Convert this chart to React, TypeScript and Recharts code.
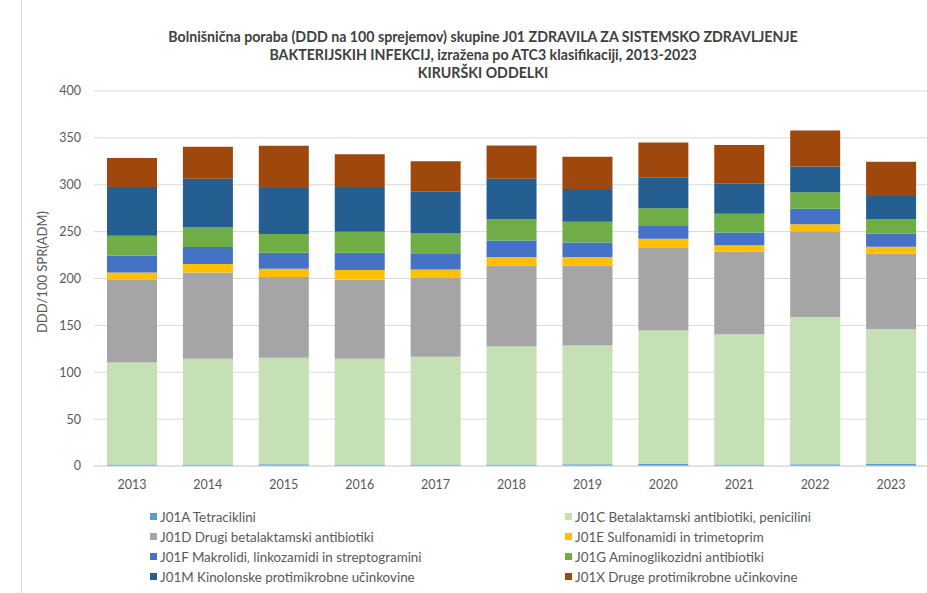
import { FC } from 'react';
import { BarChart, Bar, XAxis, YAxis, CartesianGrid, Legend } from 'recharts';

const years = ['2013', '2014', '2015', '2016', '2017', '2018', '2019', '2020', '2021', '2022', '2023'];

// DDD/100 SPR(ADM) by ATC3 group
const j01a = [1.5, 1.5, 2, 1.5, 1.5, 1.5, 2, 2.5, 1.5, 2, 2.5];
const j01c = [109, 113, 113.5, 113, 115, 126, 126.5, 142, 139, 157, 143.5];
const j01d = [88, 92, 86, 84.5, 84, 86, 85, 88, 88, 91.5, 80.5];
const j01e = [8, 9, 9, 10, 9, 9.5, 9.5, 10, 7, 7.5, 7.5];
const j01f = [18, 18, 17, 18.5, 17.5, 17.5, 15.5, 13.5, 13.5, 16.5, 14];
const j01g = [21, 21, 20, 22.5, 21, 23, 22, 19, 20, 17.5, 15.5];
const j01m = [52, 52, 49, 47.5, 44.5, 43, 35, 33, 32, 27.5, 24.5];
const j01x = [31, 34, 45, 35, 32.5, 35.5, 34.5, 37, 41.5, 38.5, 36.5];

const yTicks = [0, 50, 100, 150, 200, 250, 300, 350, 400];

const series = [
  { key: 'j01a', name: 'J01A Tetraciklini', color: '#5B9BD5', values: j01a },
  { key: 'j01c', name: 'J01C Betalaktamski antibiotiki, penicilini', color: '#C5E0B4', values: j01c },
  { key: 'j01d', name: 'J01D Drugi betalaktamski antibiotiki', color: '#A5A5A5', values: j01d },
  { key: 'j01e', name: 'J01E Sulfonamidi in trimetoprim', color: '#FFC000', values: j01e },
  { key: 'j01f', name: 'J01F Makrolidi, linkozamidi in streptogramini', color: '#4472C4', values: j01f },
  { key: 'j01g', name: 'J01G Aminoglikozidni antibiotiki', color: '#70AD47', values: j01g },
  { key: 'j01m', name: 'J01M Kinolonske protimikrobne učinkovine', color: '#255E91', values: j01m },
  { key: 'j01x', name: 'J01X Druge protimikrobne učinkovine', color: '#9E480E', values: j01x },
];

const data = years.map((year, i) => {
  const row: Record<string, string | number> = { year };
  series.forEach((s) => {
    row[s.key] = s.values[i];
  });
  return row;
});

const FONT = 'Lato, "Open Sans", sans-serif';

const LegendBox: FC = () => (
  <div
    style={{
      display: 'grid',
      gridTemplateColumns: '415px 300px',
      rowGap: 5,
      fontFamily: FONT,
      fontSize: 13.4,
      color: '#595959',
    }}
  >
    {series.map((s) => (
      <div key={s.key} style={{ display: 'flex', alignItems: 'center', height: 15 }}>
        <span style={{ width: 7, height: 7, background: s.color, marginRight: 3, display: 'inline-block' }} />
        <span>{s.name}</span>
      </div>
    ))}
  </div>
);

const App: FC = () => {
  return (
    <div style={{ position: 'absolute', left: 0, top: 0, width: 927, height: 593, background: '#fff', overflow: 'hidden' }}>
      <div style={{ position: 'absolute', left: 21, top: 0, width: 1, height: 593, background: '#d9d9d9' }} />
      <div
        style={{
          position: 'absolute',
          left: 0,
          width: 966,
          top: 28,
          textAlign: 'center',
          fontFamily: FONT,
          fontWeight: 700,
          fontSize: 14.2,
          lineHeight: '18px',
          color: '#404040',
        }}
      >
        <div>Bolnišnična poraba (DDD na 100 sprejemov) skupine J01 ZDRAVILA ZA SISTEMSKO ZDRAVLJENJE</div>
        <div>BAKTERIJSKIH INFEKCIJ, izražena po ATC3 klasifikaciji, 2013-2023</div>
        <div>KIRURŠKI ODDELKI</div>
      </div>
      <div
        style={{
          position: 'absolute',
          left: 42,
          top: 272,
          transform: 'translate(-50%, -50%) rotate(-90deg)',
          whiteSpace: 'nowrap',
          fontFamily: FONT,
          fontSize: 13,
          color: '#595959',
        }}
      >
        DDD/100 SPR(ADM)
      </div>
      <BarChart
        width={927}
        height={593}
        data={data}
        margin={{ top: 91, right: -2, bottom: 97, left: 34 }}
        style={{ position: 'absolute', left: 0, top: 0 }}
      >
        <CartesianGrid vertical={false} stroke="#d9d9d9" />
        <XAxis
          dataKey="year"
          height={30}
          tickLine={false}
          axisLine={{ stroke: '#d9d9d9' }}
          tickMargin={8}
          tick={{ fill: '#595959', fontSize: 12.5, fontFamily: FONT }}
        />
        <YAxis
          width={60}
          domain={[0, 400]}
          ticks={yTicks}
          tickLine={false}
          axisLine={false}
          tickMargin={7}
          tick={{ fill: '#595959', fontSize: 12.5, fontFamily: FONT }}
        />
        <Legend
          verticalAlign="middle"
          layout="horizontal"
          wrapperStyle={{ top: 509, left: 150, width: 730 }}
          content={() => <LegendBox />}
        />
        {series.map((s) => (
          <Bar
            key={s.key}
            dataKey={s.key}
            name={s.name}
            stackId="a"
            fill={s.color}
            barSize={50}
            isAnimationActive={false}
          />
        ))}
      </BarChart>
    </div>
  );
};

export default App;
